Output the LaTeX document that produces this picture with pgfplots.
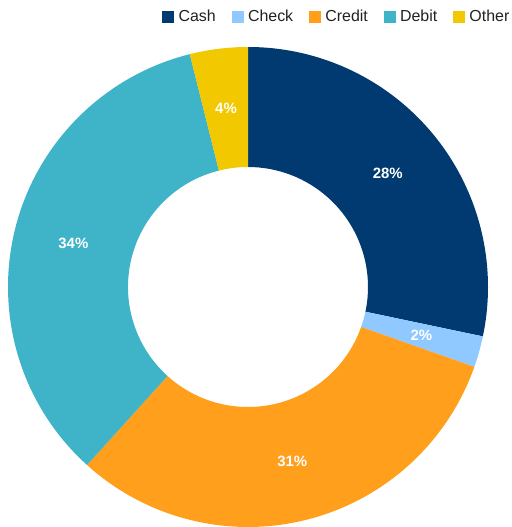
\documentclass[border=0pt]{standalone}
\usepackage{pgfplots}
\pgfplotsset{compat=1.18}
\usepackage{pgfplotstable}
\usepackage{fontspec}
\setmainfont{Liberation Sans}

\definecolor{cCash}{HTML}{003A70}
\definecolor{cCheck}{HTML}{8FC9FF}
\definecolor{cCredit}{HTML}{FF9F1C}
\definecolor{cDebit}{HTML}{3FB3C8}
\definecolor{cOther}{HTML}{F2C800}

% share of each payment type, in percent
\pgfplotstableread{
name   value col
Cash   28.3  cCash
Check  2.1   cCheck
Credit 31.3  cCredit
Debit  34.4  cDebit
Other  3.9   cOther
}\donut

\begin{document}
\begin{tikzpicture}[lab/.style={text=white, font=\bfseries\fontsize{15}{15}\selectfont}]
\begin{axis}[
  x=1bp, y=1bp,
  xmin=0, xmax=509, ymin=0, ymax=527,
  hide axis,
  legend columns=5,
  legend image code/.code={\fill[#1] (0bp,-5.5bp) rectangle (11bp,5.5bp);
    \path[draw=none,fill=none] (0bp,0bp) rectangle (14bp,0.1bp);},
  legend style={at={(rel axis cs:1.005,0.968)}, anchor=east, draw=none, fill=none,
    inner sep=0pt, font=\fontsize{16}{18}\selectfont, text=black!87,
    /tikz/every even column/.append style={column sep=14bp}},
]
\path (rel axis cs:0,0) rectangle (rel axis cs:1,1);
\addlegendimage{cCash}\addlegendentry{Cash}
\addlegendimage{cCheck}\addlegendentry{Check}
\addlegendimage{cCredit}\addlegendentry{Credit}
\addlegendimage{cDebit}\addlegendentry{Debit}
\addlegendimage{cOther}\addlegendentry{Other}

\def\ang{90}
\pgfplotsforeachungrouped \i in {0,...,4}{
  \pgfplotstablegetelem{\i}{value}\of\donut \let\sval\pgfplotsretval
  \pgfplotstablegetelem{\i}{col}\of\donut \let\scol\pgfplotsretval
  \pgfmathsetmacro\endang{\ang-3.6*\sval}
  \pgfmathsetmacro\midang{(\ang+\endang)/2}
  \pgfmathtruncatemacro\lab{round(\sval)}
  \edef\temp{\noexpand\fill[\scol]
    (axis cs:{248+240*cos(\ang)},{240+240*sin(\ang)})
    arc[start angle=\ang, end angle=\endang, radius=240bp]
    -- (axis cs:{248+120*cos(\endang)},{240+120*sin(\endang)})
    arc[start angle=\endang, end angle=\ang, radius=120bp] -- cycle;
    \noexpand\node[lab] at (axis cs:{248+180*cos(\midang)},{240+180*sin(\midang)}) {\lab\%};}
  \temp
  \global\let\ang\endang
}
\end{axis}
\end{tikzpicture}
\end{document}
